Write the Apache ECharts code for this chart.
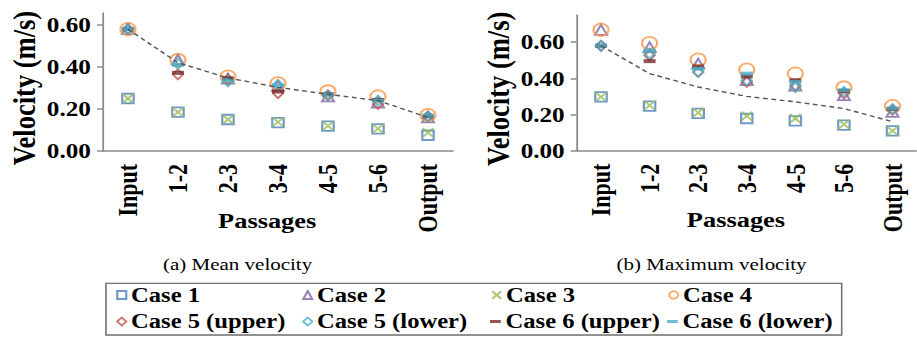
<!DOCTYPE html>
<html>
<head>
<meta charset="utf-8">
<script src="https://cdn.jsdelivr.net/npm/echarts@6/dist/echarts.min.js"></script>
<style>
html,body{margin:0;padding:0;background:#fff;overflow:hidden;}
#wrap{width:917px;height:339px;overflow:hidden;}
#chart{width:764.1667px;height:339px;transform:scaleX(1.2);transform-origin:0 0;}
</style>
</head>
<body>
<div id="wrap"><div id="chart"></div></div>
<script>
// ---- data ----
const categories = ['Input', '1-2', '2-3', '3-4', '4-5', '5-6', 'Output'];
const yTicks = [0, 0.2, 0.4, 0.6];
const seriesNames = ['Case 1', 'Case 2', 'Case 3', 'Case 4', 'Case 5 (upper)', 'Case 5 (lower)', 'Case 6 (upper)', 'Case 6 (lower)'];

// (a) Mean velocity
const meanCase1  = [0.250, 0.185, 0.150, 0.135, 0.118, 0.105, 0.075];
const meanCase2  = [0.580, 0.435, 0.345, 0.310, 0.260, 0.230, 0.160];
const meanCase3  = [0.250, 0.185, 0.150, 0.137, 0.120, 0.106, 0.087];
const meanCase4  = [0.580, 0.433, 0.354, 0.322, 0.283, 0.259, 0.171];
const meanCase5u = [0.580, 0.365, 0.340, 0.275, 0.265, 0.224, 0.165];
const meanCase5l = [0.580, 0.415, 0.332, 0.315, 0.265, 0.240, 0.165];
const meanCase6u = [0.580, 0.372, 0.346, 0.283, 0.270, 0.243, 0.165];
const meanCase6l = [0.580, 0.410, 0.338, 0.312, 0.268, 0.240, 0.168];
const meanTrend  = [0.580, 0.420, 0.348, 0.303, 0.270, 0.240, 0.160];

// (b) Maximum velocity
const maxCase1  = [0.297, 0.246, 0.206, 0.178, 0.165, 0.141, 0.110];
const maxCase2  = [0.668, 0.572, 0.481, 0.390, 0.360, 0.307, 0.215];
const maxCase3  = [0.297, 0.250, 0.210, 0.191, 0.178, 0.145, 0.110];
const maxCase4  = [0.668, 0.594, 0.503, 0.448, 0.426, 0.349, 0.246];
const maxCase5u = [0.580, 0.527, 0.435, 0.380, 0.360, 0.316, 0.225];
const maxCase5l = [0.580, 0.536, 0.435, 0.389, 0.352, 0.325, 0.230];
const maxCase6u = [0.580, 0.495, 0.466, 0.411, 0.389, 0.330, 0.230];
const maxCase6l = [0.580, 0.554, 0.453, 0.426, 0.380, 0.334, 0.233];
const maxTrend  = [0.580, 0.426, 0.352, 0.300, 0.270, 0.233, 0.160];

// ---- styles ----
const FONT = 'Liberation Serif, Times New Roman, serif';
const styles = [
  {symbol: 'rect', size: 9.5, color: '#4A7EBB', fill: false},
  {symbol: 'triangle', size: 10, color: '#8064A2', fill: false},
  {symbol: 'path://M0,0L10,10M10,0L0,10', size: 9, color: '#9BBB59', fill: false},
  {symbol: 'circle', size: 12.5, color: '#F79646', fill: false},
  {symbol: 'diamond', size: [8.5, 10], color: '#C0504D', fill: false},
  {symbol: 'diamond', size: [8.5, 10], color: '#4BACC6', fill: false},
  {symbol: 'rect', size: [10, 4], color: '#772C2A', fill: true},
  {symbol: 'rect', size: [10, 4], color: '#4BACC6', fill: true}
];
const meanData = [meanCase1, meanCase2, meanCase3, meanCase4, meanCase5u, meanCase5l, meanCase6u, meanCase6l];
const maxData = [maxCase1, maxCase2, maxCase3, maxCase4, maxCase5u, maxCase5l, maxCase6u, maxCase6l];

function itemStyleFor(s) {
  return s.fill ? {color: s.color, borderWidth: 0}
                : {color: 'transparent', borderColor: s.color, borderWidth: 1.8};
}

function yLabel(v) {
  return yTicks.some(t => Math.abs(t - v) < 1e-9) ? v.toFixed(2) : '';
}

const axisLineStyle = {color: '#8a8a8a', width: 1.5};

function xAxisCfg(gi) {
  return {
    type: 'category', gridIndex: gi, data: categories, boundaryGap: true,
    axisLine: {lineStyle: axisLineStyle}, axisTick: {show: false},
    axisLabel: {rotate: 90, margin: 13, color: '#000', fontFamily: FONT, fontWeight: 'bold', fontSize: 22},
    name: 'Passages', nameLocation: 'middle', nameGap: 58, nameMoveOverlap: false,
    nameTextStyle: {color: '#000', fontFamily: FONT, fontWeight: 'bold', fontSize: 22, padding: [0, 18, 0, 0]}
  };
}
function yAxisCfg(gi, max) {
  return {
    type: 'value', gridIndex: gi, min: 0, max: max, interval: 0.2,
    splitLine: {show: false},
    axisLine: {show: true, lineStyle: axisLineStyle},
    axisTick: {show: true, length: 5, lineStyle: axisLineStyle, customValues: yTicks},
    axisLabel: {margin: 10, color: '#000', fontFamily: FONT, fontWeight: 'bold', fontSize: 21,
                formatter: yLabel, customValues: yTicks},
    name: 'Velocity (m/s)', nameLocation: 'middle', nameGap: 52, nameRotate: 90, nameMoveOverlap: false,
    nameTextStyle: {color: '#000', fontFamily: FONT, fontWeight: 'bold', fontSize: 26.5, padding: [0, 12, 0, 0]}
  };
}

const series = [];
[meanData, maxData].forEach((set, gi) => {
  set.forEach((d, i) => {
    const s = styles[i];
    series.push({
      type: 'scatter', name: seriesNames[i], xAxisIndex: gi, yAxisIndex: gi,
      data: d, symbol: s.symbol, symbolSize: s.size,
      itemStyle: itemStyleFor(s), z: 2 + i, emphasis: {disabled: true}
    });
  });
  series.push({
    type: 'line', name: 'trend', xAxisIndex: gi, yAxisIndex: gi,
    data: gi === 0 ? meanTrend : maxTrend, symbol: 'none', smooth: false,
    lineStyle: {type: [4, 3], color: '#555', width: 1.4}, z: 20, silent: true
  });
});

// legends: 4 columns x 2 rows, one component per item
const legendCols = [96.8, 251.8, 409.3, 556.8];
const legendRows = [284.5, 311];
const legends = seriesNames.map((n, i) => {
  const s = styles[i];
  const dash = s.fill;
  return {
    data: [{name: n, icon: dash ? 'rect' : s.symbol, itemStyle: itemStyleFor(s)}],
    left: legendCols[i % 4] + (dash ? -1 : 0), top: legendRows[Math.floor(i / 4)],
    padding: 0, itemGap: 0,
    itemWidth: dash ? 9 : 7.5, itemHeight: dash ? 3 : 8,
    selectedMode: false,
    textStyle: {color: '#000', fontFamily: FONT, fontWeight: 'bold', fontSize: 20.5, padding: [0, 0, 0, -1]}
  };
});

const chart = echarts.init(document.getElementById('chart'), null, {renderer: 'svg'});
chart.setOption({
  animation: false,
  backgroundColor: '#fff',
  grid: [
    {left: 85.8, top: 13, width: 291.7, height: 138},
    {left: 480.6, top: 15, width: 292.5, height: 135.7}
  ],
  xAxis: [xAxisCfg(0), xAxisCfg(1)],
  yAxis: [yAxisCfg(0, 0.657), yAxisCfg(1, 0.75)],
  legend: legends,
  graphic: [
    {type: 'rect', shape: {x: 88.3, y: 283.3, width: 613.1, height: 51.7},
     style: {fill: 'none', stroke: '#6e6e6e', lineWidth: 1.3}, silent: true},
    {type: 'text', x: 198, y: 264, style: {text: '(a) Mean velocity', align: 'center', verticalAlign: 'middle',
      font: '17.5px ' + FONT, fill: '#000'}},
    {type: 'text', x: 593, y: 264, style: {text: '(b) Maximum velocity', align: 'center', verticalAlign: 'middle',
      font: '17.5px ' + FONT, fill: '#000'}}
  ],
  series: series
});
</script>
</body>
</html>
